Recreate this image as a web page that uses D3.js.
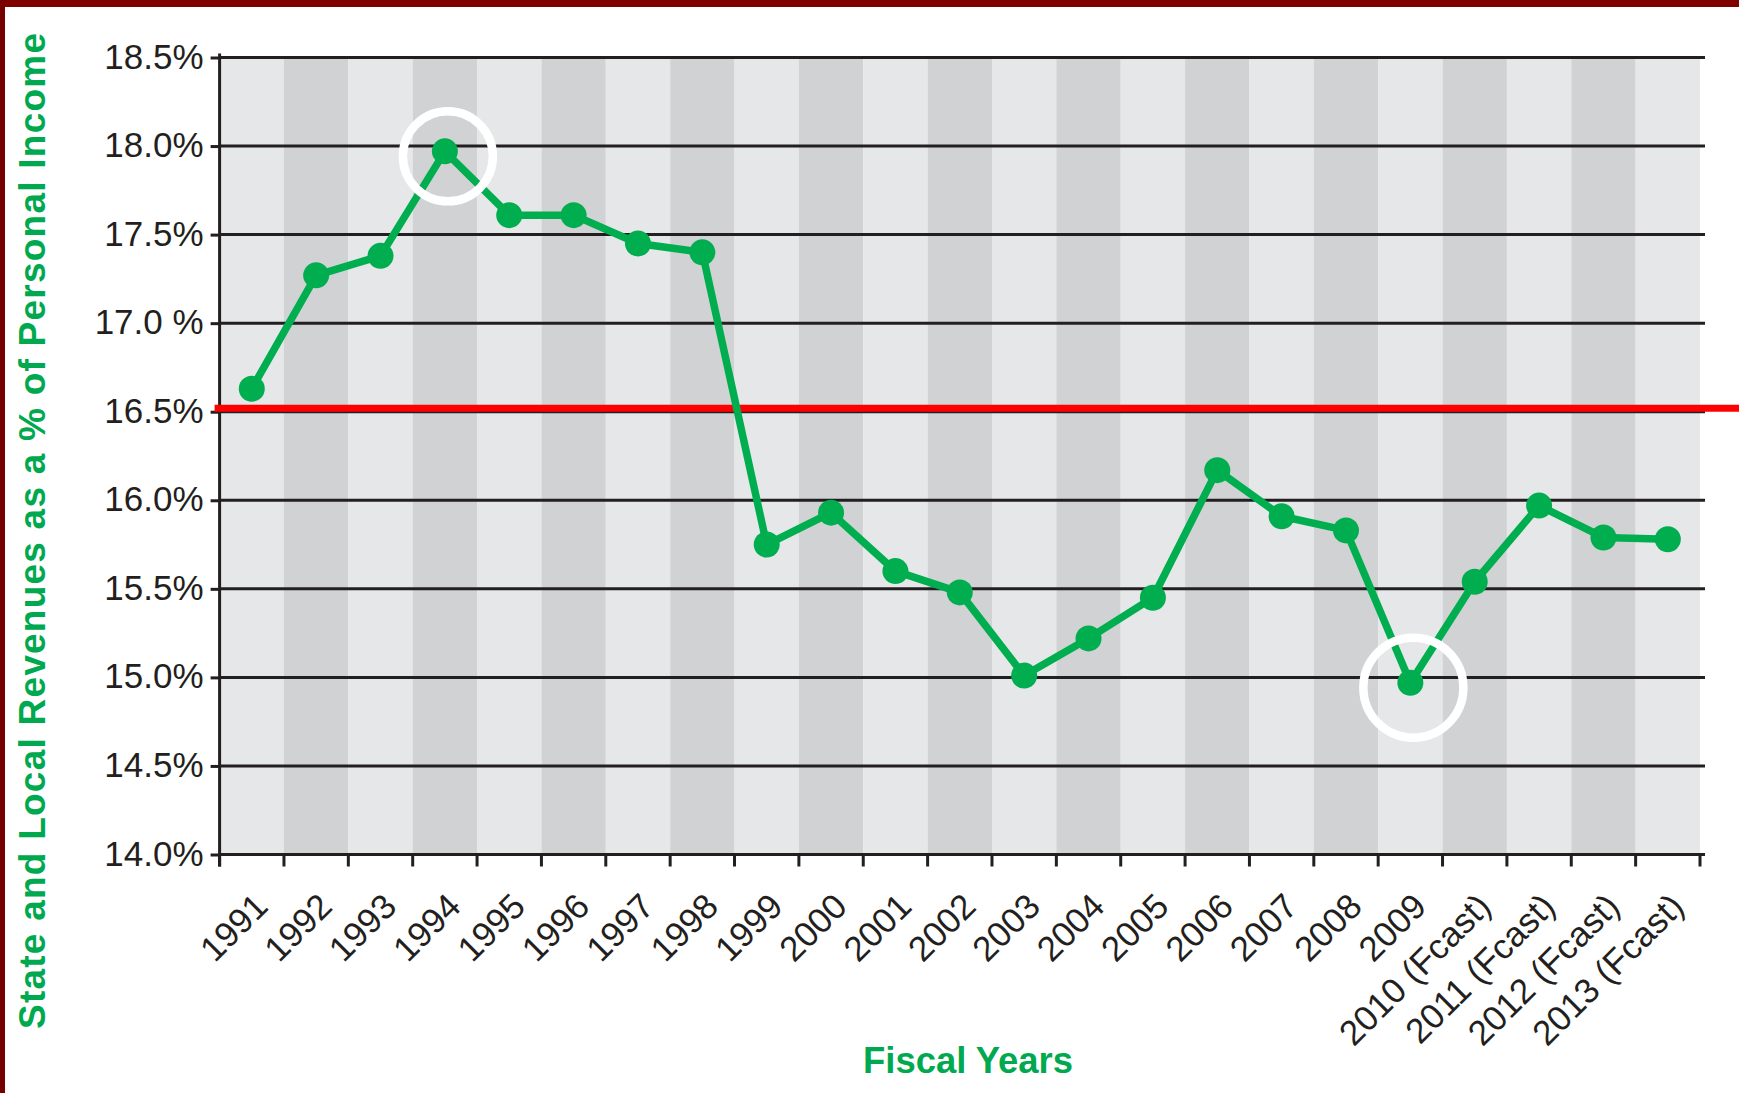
<!DOCTYPE html>
<html lang="en">
<head>
    <meta charset="UTF-8">
    <title>State and Local Revenues as a % of Personal Income</title>

    <!-- D3 v7 -->
    <script src="https://d3js.org/d3.v7.min.js"></script>

    <style>
        body {
            margin: 0;
            background: #fff;
            overflow: hidden;
        }

        svg {
            display: block;
        }

        /* tick labels on both axes */
        .tick-label, .y-axis text {
            font-family: "Liberation Sans", Arial, sans-serif;
            font-size: 35px;
            fill: #231f20;
        }

        /* green axis titles */
        .axis-title {
            font-family: "Liberation Sans", Arial, sans-serif;
            font-weight: bold;
            fill: #00a94f;
        }
    </style>
</head>
<body>

<svg width="1739" height="1093"></svg>

<script>
    // Fiscal years shown on the x axis
    const years = [
        "1991", "1992", "1993", "1994", "1995", "1996", "1997", "1998",
        "1999", "2000", "2001", "2002", "2003", "2004", "2005", "2006",
        "2007", "2008", "2009", "2010 (Fcast)", "2011 (Fcast)",
        "2012 (Fcast)", "2013 (Fcast)"
    ];

    // State and local revenues as a % of personal income
    const revenues = [
        16.63, 17.27, 17.38, 17.97, 17.61, 17.61, 17.45, 17.40,
        15.75, 15.93, 15.60, 15.48, 15.01, 15.22, 15.45, 16.17,
        15.91, 15.83, 14.97, 15.54, 15.97, 15.79, 15.78
    ];

    // y axis ticks and their printed labels
    const yTicks = [14.0, 14.5, 15.0, 15.5, 16.0, 16.5, 17.0, 17.5, 18.0, 18.5];
    const yTickLabels = ["14.0%", "14.5%", "15.0%", "15.5%", "16.0%",
        "16.5%", "17.0 %", "17.5%", "18.0%", "18.5%"];

    // red reference line and the two circled years
    const benchmark = 16.52;
    const highlightYears = ["1994", "2009"];

    const data = years.map((d, i) => ({ year: d, value: revenues[i] }));

    const svg = d3.select("svg");
    const W = +svg.attr("width"), H = +svg.attr("height");

    // plot area bounds
    const plot = { left: 219.6, right: 1700, top: 57.5, bottom: 854.5 };

    const x = d3.scaleBand().domain(years).range([plot.left, plot.right]).padding(0);
    const y = d3.scaleLinear().domain([14, 18.5]).range([plot.bottom, plot.top]);
    const cx = d => x(d) + x.bandwidth() / 2;

    const green = "#00ae50";
    const ink = "#231f20";

    // dark red frame on top and left edges
    svg.append("rect").attr("x", 0).attr("y", 0).attr("width", W).attr("height", 7).attr("fill", "#800000");
    svg.append("rect").attr("x", 0).attr("y", 0).attr("width", 5).attr("height", H).attr("fill", "#740000");

    // alternating vertical stripes, one per year
    svg.append("g")
        .selectAll("rect")
        .data(years)
        .join("rect")
        .attr("x", d => x(d))
        .attr("y", y(18.5))
        .attr("width", x.bandwidth())
        .attr("height", y(14) - y(18.5))
        .attr("fill", (d, i) => i % 2 ? "#d1d2d4" : "#e6e7e8");

    // horizontal gridlines
    svg.append("g")
        .selectAll("line")
        .data(yTicks)
        .join("line")
        .attr("x1", plot.left)
        .attr("x2", plot.right + 5)
        .attr("y1", d => y(d))
        .attr("y2", d => y(d))
        .attr("stroke", ink)
        .attr("stroke-width", 3);

    // y axis with tick marks and labels
    const yAxis = svg.append("g")
        .attr("class", "y-axis")
        .attr("transform", `translate(${plot.left},0)`)
        .call(d3.axisLeft(y)
            .tickValues(yTicks)
            .tickSize(9)
            .tickPadding(7)
            .tickFormat((d, i) => yTickLabels[i]));
    yAxis.select(".domain").remove();
    yAxis.selectAll(".tick line").attr("stroke", ink).attr("stroke-width", 3);
    yAxis.selectAll(".tick text").attr("dy", "0.3em");

    // vertical axis line
    svg.append("line")
        .attr("x1", plot.left).attr("x2", plot.left)
        .attr("y1", plot.top - 4).attr("y2", plot.bottom + 12)
        .attr("stroke", ink)
        .attr("stroke-width", 3);

    // x tick marks at the stripe boundaries
    const bounds = years.map(d => x(d)).concat([plot.right]);
    svg.append("g")
        .selectAll("line")
        .data(bounds)
        .join("line")
        .attr("x1", d => d).attr("x2", d => d)
        .attr("y1", plot.bottom).attr("y2", plot.bottom + 12)
        .attr("stroke", ink)
        .attr("stroke-width", 3);

    // red reference line
    svg.append("line")
        .attr("x1", plot.left - 5).attr("x2", W)
        .attr("y1", y(benchmark)).attr("y2", y(benchmark))
        .attr("stroke", "#ff0000")
        .attr("stroke-width", 7);

    // the data line
    const line = d3.line().x(d => cx(d.year)).y(d => y(d.value));
    svg.append("path")
        .datum(data)
        .attr("d", line)
        .attr("fill", "none")
        .attr("stroke", green)
        .attr("stroke-width", 7.5)
        .attr("stroke-linejoin", "round");

    // markers
    svg.append("g")
        .selectAll("circle")
        .data(data)
        .join("circle")
        .attr("cx", d => cx(d.year))
        .attr("cy", d => y(d.value))
        .attr("r", 13)
        .attr("fill", green);

    // white rings around the peak and the trough
    svg.append("g")
        .selectAll("circle")
        .data(data.filter(d => highlightYears.includes(d.year)))
        .join("circle")
        .attr("cx", d => cx(d.year) + 3)
        .attr("cy", d => y(d.value) + 5)
        .attr("r", (d, i) => i === 0 ? 45 : 50)
        .attr("fill", "none")
        .attr("stroke", "#fff")
        .attr("stroke-width", 8.5);

    // rotated year labels
    svg.append("g")
        .selectAll("text")
        .data(years)
        .join("text")
        .attr("class", "tick-label")
        .attr("text-anchor", "end")
        .attr("transform", d => `translate(${cx(d) + 18},${plot.bottom + 54}) rotate(-45)`)
        .text(d => d);

    // axis titles
    svg.append("text")
        .attr("class", "axis-title")
        .attr("text-anchor", "middle")
        .attr("x", 968)
        .attr("y", 1073)
        .attr("font-size", 36)
        .attr("textLength", 210)
        .attr("lengthAdjust", "spacingAndGlyphs")
        .text("Fiscal Years");

    svg.append("text")
        .attr("class", "axis-title")
        .attr("text-anchor", "middle")
        .attr("transform", "translate(45,531) rotate(-90)")
        .attr("font-size", 37)
        .attr("textLength", 996)
        .attr("lengthAdjust", "spacing")
        .text("State and Local Revenues as a % of Personal Income");
</script>

</body>
</html>
